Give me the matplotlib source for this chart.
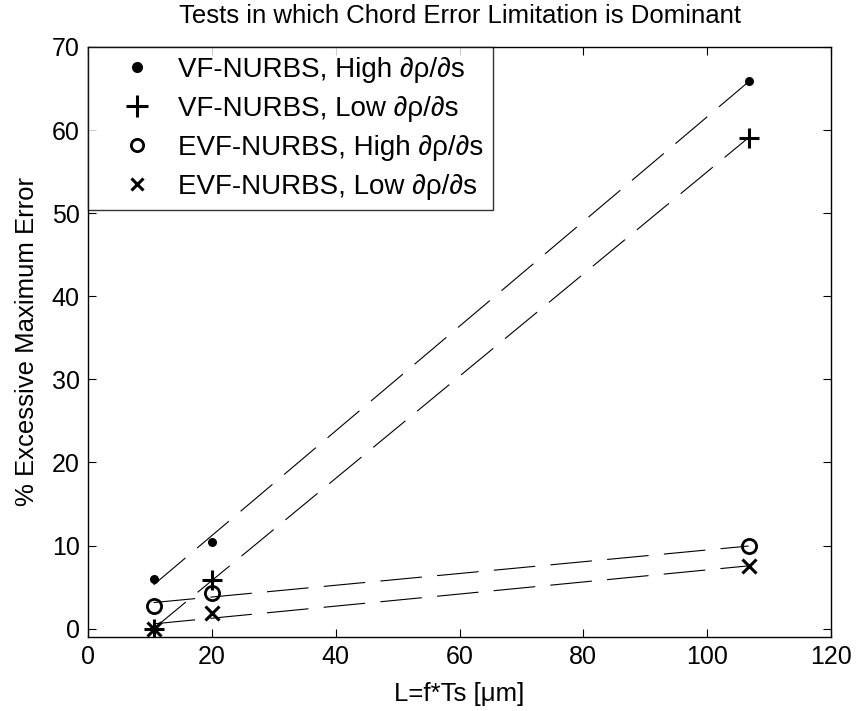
# Chord error limitation tests: % excessive max error vs L = f*Ts
import numpy as np
import matplotlib
matplotlib.use('Agg')
import matplotlib.pyplot as plt
from matplotlib.lines import Line2D

plt.rcParams['font.family'] = ['Liberation Sans', 'DejaVu Sans']
plt.rcParams['lines.scale_dashes'] = False

########################### DATA #####################################
L_vals   = [10.6, 20.0, 106.7]
vf_high  = [6.0, 10.4, 65.9]
vf_low   = [0.0, 5.8, 59.1]
evf_high = [2.7, 4.3, 9.9]
evf_low  = [0.0, 1.9, 7.5]

labels = ['VF-NURBS, High \u2202\u03c1/\u2202s',
          'VF-NURBS, Low \u2202\u03c1/\u2202s',
          'EVF-NURBS, High \u2202\u03c1/\u2202s',
          'EVF-NURBS, Low \u2202\u03c1/\u2202s']

xticks = [0, 20, 40, 60, 80, 100, 120]
yticks = [0, 10, 20, 30, 40, 50, 60, 70]

########################### PLOT #####################################
fig = plt.figure(figsize=(8.68, 7.11), dpi=100)
ax = fig.add_axes([0.1014, 0.1041, 0.856, 0.8298])

x = np.array(L_vals)
series = [vf_high, vf_low, evf_high, evf_low]
styles = [dict(marker='o', ms=6.5, mfc='k', mec='k', mew=0),
          dict(marker='+', ms=15, mec='k', mew=2.2),
          dict(marker='o', ms=10.2, mfc='none', mec='k', mew=2.0),
          dict(marker='x', ms=9.5, mec='k', mew=2.2)]

# linear fit lines (dashed) across the data range
for ys in series:
    p = np.polyfit(x, ys, 1)
    xf = np.array([x.min(), x.max()])
    ax.plot(xf, np.polyval(p, xf), color='k', lw=0.8, dashes=(30, 11))

for ys, st in zip(series, styles):
    ax.plot(x, ys, linestyle='none', zorder=3, **st)

# legend proxies (markers only)
leg_styles = [dict(marker='o', ms=8, mfc='k', mec='k', mew=0),
              dict(marker='+', ms=15.5, mec='k', mew=2.2),
              dict(marker='o', ms=8.8, mfc='none', mec='k', mew=2.0),
              dict(marker='x', ms=8.5, mec='k', mew=2.2)]
handles = [Line2D([], [], linestyle='none', **st) for st in leg_styles]
leg = ax.legend(handles, labels, loc='upper left', borderaxespad=0,
                fontsize=20, frameon=True, fancybox=False, edgecolor='k',
                handlelength=2.83, handletextpad=0.05, borderpad=0.35,
                labelspacing=0.47)
leg.get_frame().set_linewidth(1.0)

ax.set_xlim(0, 120)
ax.set_ylim(-1, 70)
ax.set_xticks(xticks)
ax.set_yticks(yticks)
ax.tick_params(direction='in', length=6, width=0.8, labelsize=18,
               top=True, right=True, pad=6)
for s in ax.spines.values():
    s.set_linewidth(1.0)

ax.set_xlabel('L=f*Ts [\u03bcm]', fontsize=18.5, labelpad=9)
ax.set_ylabel('% Excessive Maximum Error', fontsize=18.5, labelpad=9)
ax.set_title('Tests in which Chord Error Limitation is Dominant', fontsize=18.5, pad=17)

fig.savefig('out.png', dpi=100)
